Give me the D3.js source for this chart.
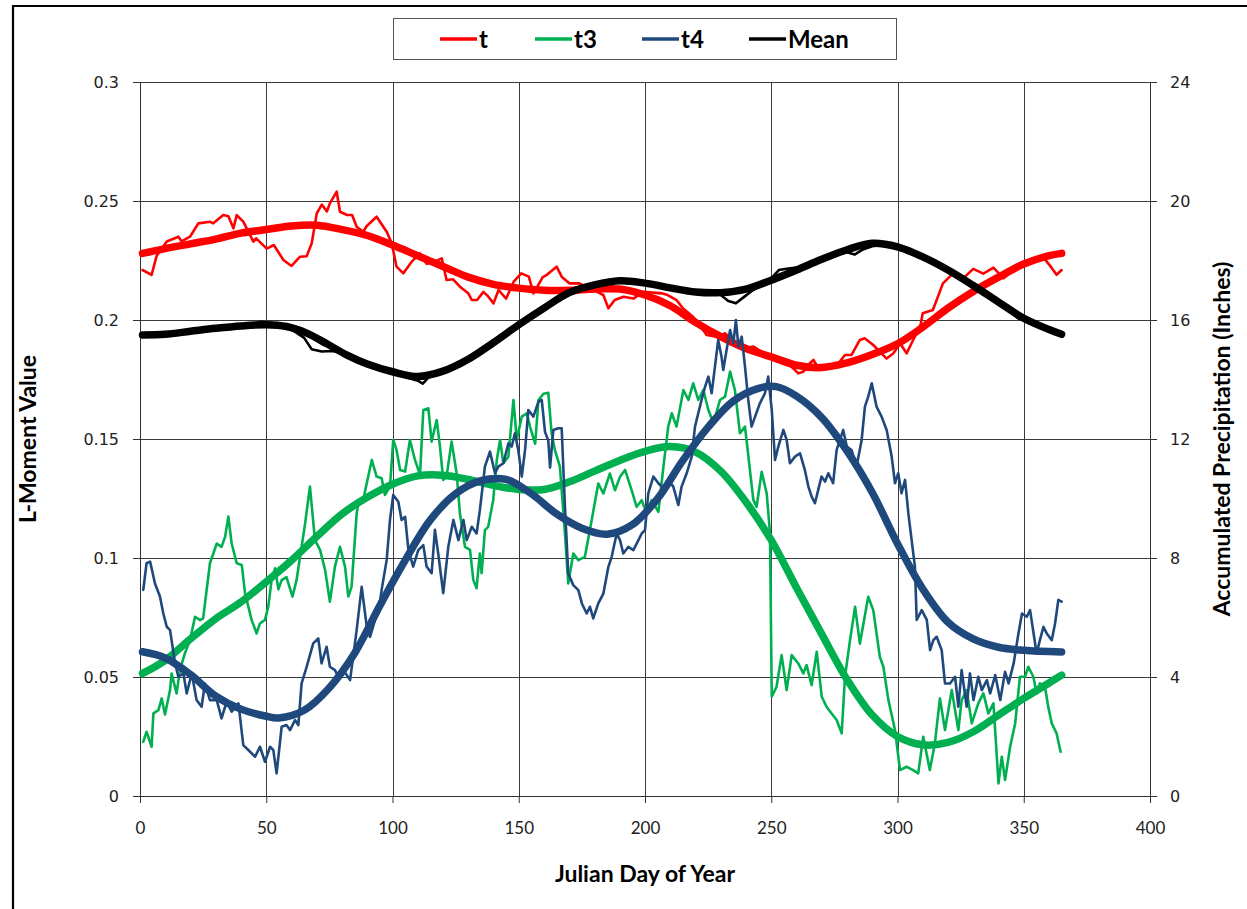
<!DOCTYPE html>
<html>
<head>
<meta charset="utf-8">
<script src="https://cdn.jsdelivr.net/npm/d3@7"></script>
<style>
  html, body { margin: 0; padding: 0; background: #fff; }
  .tick-y text, .tick-r text { font-family: "DejaVu Sans", sans-serif; font-size: 16px; fill: #222; }
  .tick-x text { font-family: "Lato", "Liberation Sans", sans-serif; font-size: 17px; fill: #222; }
  .axis-title { font-family: "Lato", "Liberation Sans", sans-serif; font-weight: bold; font-size: 23px; fill: #000; }
  .legend-text { font-family: "Lato", "Liberation Sans", sans-serif; font-weight: bold; font-size: 24px; fill: #000; }
</style>
</head>
<body>
<svg id="chart" width="1247" height="909"></svg>
<script>
// ---- data: [julian day, value] ----
var xTicks = [0, 50, 100, 150, 200, 250, 300, 350, 400];
var yTicks = [0, 0.05, 0.1, 0.15, 0.2, 0.25, 0.3];
var yRightTicks = [0, 4, 8, 12, 16, 20, 24];

// t (L-CV), daily noisy series
var tRaw = [[1,0.221],[4.6,0.219],[6.6,0.227],[10.6,0.233],[15.2,0.235],[16.5,0.233],[19.8,0.235],[23.1,0.2406],[27.7,0.2413],[29,0.2406],[33,0.2441],[35,0.2436],[37,0.2385],[38.3,0.2441],[40.9,0.2413],[44.9,0.2329],[46,0.2343],[50.2,0.23],[53,0.2315],[56.8,0.2252],[60,0.2227],[63.4,0.2266],[66,0.2268],[68,0.2322],[70,0.2448],[72,0.2485],[74,0.2456],[75.2,0.249],[77.9,0.2539],[79.2,0.2455],[82,0.2441],[84,0.2441],[85.8,0.2392],[88.4,0.2371],[89.8,0.2395],[93.7,0.2434],[97.7,0.2371],[99.7,0.2322],[101.6,0.2224],[104.3,0.2196],[107.6,0.2245],[110.9,0.228],[113.5,0.2236],[116,0.2242],[119.5,0.2259],[121.4,0.2168],[124,0.2171],[126.7,0.214],[130,0.2112],[131.4,0.2084],[133.5,0.2084],[136,0.2118],[138,0.2098],[140,0.207],[142,0.2126],[145,0.209],[148,0.2161],[151,0.2196],[154,0.2182],[155.8,0.2112],[159.5,0.218],[161,0.2189],[165,0.2224],[167,0.2182],[170,0.2154],[174,0.2154],[180.9,0.2119],[183.5,0.2105],[185.5,0.2049],[188,0.2084],[191.5,0.2098],[195.4,0.209],[199.5,0.2119],[206.6,0.2112],[209,0.2105],[212.5,0.2084],[215,0.2049],[219,0.2014],[223,0.1958],[224.4,0.1937],[228.4,0.193],[231.6,0.1944],[236.3,0.1902],[239,0.1881],[243,0.1888],[246.2,0.1866],[249.5,0.1852],[251.5,0.1838],[254.8,0.183],[258.7,0.1797],[260.7,0.1776],[262.7,0.1783],[265.3,0.1818],[266.7,0.1832],[268,0.181],[272,0.181],[276,0.181],[279.2,0.1853],[281.8,0.1853],[285.1,0.1916],[287,0.1923],[290.4,0.1895],[293,0.1866],[295.7,0.1838],[298.4,0.186],[301,0.1902],[303.6,0.186],[306.2,0.1916],[309,0.1972],[310,0.2028],[314,0.2042],[318,0.2154],[322,0.2196],[324.8,0.218],[326,0.2175],[330,0.2215],[334,0.2195],[338,0.222],[342,0.2175],[346,0.221],[350,0.2235],[354,0.2245],[358,0.226],[361,0.222],[363,0.219],[365,0.221]];

// t, fitted curve
var tFit = [[1,0.228],[10,0.23],[20,0.232],[30,0.234],[40,0.2365],[50,0.238],[60,0.2395],[70,0.2398],[80,0.238],[90,0.2355],[100,0.2315],[110,0.227],[120,0.2225],[130,0.218],[140,0.215],[150,0.2134],[160,0.2125],[170,0.2125],[180,0.213],[190,0.213],[200,0.2105],[210,0.206],[220,0.199],[230,0.193],[240,0.188],[250,0.1845],[260,0.181],[270,0.18],[280,0.182],[290,0.1855],[300,0.19],[310,0.197],[320,0.205],[330,0.212],[340,0.218],[350,0.2235],[360,0.227],[365,0.228]];

// t3 (L-skewness), daily noisy series
var t3Raw = [[1.3,0.0228],[2.6,0.027],[4.6,0.0207],[5.3,0.0347],[7.3,0.0361],[8.6,0.041],[9.9,0.0343],[11.9,0.0445],[12.5,0.0515],[14.5,0.0431],[15.8,0.0529],[17.8,0.06],[19.8,0.0655],[21.8,0.0753],[23.8,0.0739],[25,0.0746],[27.7,0.0978],[30.4,0.1061],[32.3,0.1047],[33.7,0.1089],[35,0.1174],[36.3,0.1061],[38.3,0.0978],[40.3,0.0971],[41.6,0.0852],[44.2,0.074],[46.2,0.0683],[47.5,0.0725],[49.5,0.074],[50.8,0.0795],[52.1,0.0907],[53.5,0.0957],[54.8,0.0868],[56.1,0.0907],[58,0.092],[60.4,0.0838],[62,0.0907],[64,0.1047],[65.3,0.1138],[67.3,0.13],[69.3,0.1075],[71.3,0.1034],[73.3,0.095],[75.2,0.0816],[77.2,0.0964],[79.2,0.1047],[81.2,0.0964],[82.5,0.0838],[83.8,0.088],[85.8,0.1187],[86.5,0.123],[88.4,0.1244],[89.8,0.1314],[91.8,0.1412],[93.7,0.1342],[95.7,0.1335],[97,0.1265],[99,0.13],[100.3,0.1496],[101.6,0.1454],[103,0.137],[105,0.1363],[106.9,0.1496],[108.9,0.1412],[110.9,0.1349],[112.2,0.1622],[114.2,0.1629],[115.5,0.1489],[117.5,0.158],[118.8,0.1468],[120.1,0.1328],[121.4,0.1342],[123.4,0.1489],[125.4,0.1356],[126.7,0.1187],[128.7,0.1047],[130.7,0.1034],[132,0.0908],[133.3,0.0873],[134.6,0.1019],[135.3,0.0936],[136.6,0.1117],[137.9,0.1131],[139.9,0.1244],[141.3,0.1412],[142.6,0.1496],[143.9,0.1398],[145.9,0.1426],[147.9,0.1664],[149.2,0.1496],[151.2,0.1594],[153.2,0.1608],[154.5,0.155],[156.5,0.148],[157.8,0.1664],[159.8,0.169],[161.7,0.1694],[163,0.1525],[164.3,0.1454],[166.3,0.1384],[168.3,0.1103],[169.6,0.0893],[171.6,0.1019],[173.6,0.0991],[176.2,0.1005],[178.9,0.116],[181.5,0.1313],[183.5,0.1271],[186.1,0.1355],[188.1,0.1285],[190.1,0.1341],[192.1,0.137],[194.7,0.1285],[196.7,0.1215],[198.7,0.1243],[200.7,0.1187],[202.6,0.1243],[205.3,0.1194],[207.3,0.1384],[209.2,0.1552],[210.6,0.1608],[212.5,0.1552],[215.2,0.1706],[217.2,0.1664],[219.1,0.1734],[221.1,0.1664],[223.1,0.1706],[225.1,0.1622],[227.1,0.1566],[229.7,0.1664],[231.7,0.1678],[233.7,0.1783],[235.6,0.1706],[237.6,0.1524],[239.6,0.1552],[242.9,0.1244],[244.2,0.1215],[246.2,0.1362],[248.2,0.1271],[249.5,0.1104],[250.2,0.0417],[252.1,0.0459],[254.1,0.0592],[256.1,0.0445],[258.1,0.0592],[260.7,0.0557],[262.7,0.0515],[264,0.055],[266,0.0466],[268,0.0606],[270,0.0417],[271.9,0.0375],[273.9,0.0347],[275.9,0.0319],[277.9,0.0263],[279.2,0.0501],[281.2,0.0655],[283.2,0.0795],[285.1,0.064],[288.4,0.0837],[290.4,0.0781],[293,0.0585],[294.4,0.0543],[296.4,0.0403],[299,0.0277],[301,0.0109],[303.6,0.0123],[306.2,0.0109],[308.2,0.0095],[310.2,0.0249],[311.5,0.0179],[312.8,0.0109],[314.8,0.0221],[316.8,0.041],[318.8,0.0277],[321.5,0.0445],[324.1,0.0277],[325.4,0.0403],[327.4,0.0445],[329.4,0.0305],[332,0.0389],[334,0.0431],[336,0.0347],[338,0.0389],[340,0.0053],[341.3,0.0165],[342.6,0.0067],[344.6,0.0207],[346.6,0.0305],[348.5,0.0501],[350.5,0.0501],[351.8,0.0543],[353.8,0.0501],[355.1,0.0431],[356.4,0.0473],[358.4,0.0459],[359.7,0.0375],[361.1,0.0305],[363,0.0263],[364.6,0.0186]];

// t3, fitted curve
var t3Fit = [[1,0.0515],[10,0.057],[20,0.066],[30,0.0745],[40,0.0815],[50,0.09],[60,0.099],[70,0.109],[80,0.1185],[90,0.1255],[100,0.131],[110,0.1345],[120,0.1348],[130,0.133],[140,0.1305],[150,0.1288],[160,0.1288],[170,0.132],[180,0.1365],[190,0.141],[200,0.1448],[210,0.1468],[220,0.1445],[230,0.1365],[240,0.1235],[250,0.1075],[260,0.0875],[270,0.068],[280,0.049],[290,0.034],[300,0.025],[310,0.0215],[320,0.0225],[330,0.027],[340,0.034],[350,0.041],[360,0.0475],[365,0.0508]];

// t4 (L-kurtosis), daily noisy series
var t4Raw = [[1.3,0.0866],[2.6,0.0978],[4,0.0985],[5.9,0.0894],[7.9,0.0838],[9.2,0.0768],[10.6,0.0711],[11.9,0.0697],[13.9,0.0557],[15.2,0.0501],[17.2,0.0515],[18.5,0.0431],[20.5,0.0515],[22.4,0.0403],[24.4,0.0375],[25.7,0.0473],[27.7,0.0403],[30.4,0.0403],[32.3,0.0326],[34.3,0.0396],[36.3,0.0354],[39,0.0389],[40.9,0.0214],[43.6,0.0186],[45.6,0.0165],[47.5,0.0207],[49.5,0.0144],[51.5,0.0207],[52.8,0.0193],[54.1,0.0095],[56.1,0.0291],[58,0.0298],[59.4,0.0277],[61.4,0.0319],[62.7,0.0298],[64,0.0473],[66,0.0543],[68.6,0.0641],[70.6,0.0662],[71.9,0.0557],[73.9,0.0627],[75.2,0.0543],[77.2,0.0529],[78.5,0.0501],[80.5,0.0529],[83.2,0.0487],[85.8,0.0697],[87.8,0.0879],[89.8,0.0711],[91.1,0.0669],[93.1,0.074],[94.4,0.0768],[95.7,0.0866],[97.7,0.0992],[99,0.116],[100.3,0.1265],[102.3,0.1236],[103.6,0.116],[105,0.1173],[106.3,0.1033],[108.2,0.0964],[110.2,0.1033],[112.2,0.1054],[113.5,0.0964],[115.5,0.0936],[116.8,0.1118],[118.1,0.1019],[120.1,0.0852],[122.1,0.1047],[124.1,0.116],[126.1,0.1075],[128.1,0.116],[129.4,0.1075],[131.4,0.1131],[133.3,0.1103],[134.6,0.1201],[136.6,0.1384],[138.6,0.1447],[140.6,0.1356],[141.9,0.1384],[143.9,0.1398],[145.9,0.1482],[147.2,0.1468],[148.5,0.1524],[149.8,0.1454],[151.2,0.1342],[152.5,0.1454],[153.8,0.1622],[155.8,0.1594],[157.8,0.1657],[159.1,0.1664],[160.4,0.153],[161.7,0.1493],[162.4,0.138],[163.7,0.1538],[165.7,0.1545],[167,0.1545],[168.3,0.1215],[169.6,0.0935],[171.6,0.0886],[173.6,0.0865],[175,0.0809],[176.9,0.0767],[178.2,0.0795],[179.5,0.0746],[181.5,0.0809],[183.5,0.085],[185.5,0.0963],[186.8,0.1005],[188.8,0.1103],[190.1,0.1075],[191.4,0.1019],[193.4,0.1047],[195.4,0.1033],[197.4,0.1075],[198.7,0.1103],[200,0.1117],[201.3,0.1272],[203.3,0.1342],[205.3,0.1314],[207.3,0.1293],[209.2,0.1328],[211.2,0.13],[213.2,0.1223],[214.5,0.13],[216.5,0.1356],[218.5,0.1426],[219.8,0.1552],[221.1,0.1608],[222.4,0.1664],[223.8,0.172],[225.1,0.1762],[226.4,0.1692],[227.7,0.1804],[229,0.1916],[230.3,0.1846],[231,0.179],[232.3,0.1874],[233.7,0.1958],[235,0.1902],[236,0.2],[237,0.1888],[238.3,0.193],[239.6,0.1804],[240.9,0.1664],[242.2,0.1552],[243.6,0.1594],[245.5,0.165],[247.5,0.1692],[248.8,0.1762],[250.2,0.1622],[251.5,0.1412],[252.8,0.1468],[254.8,0.1538],[256.1,0.1496],[257.4,0.1398],[259.4,0.1426],[261.4,0.144],[263.3,0.137],[264.7,0.13],[266,0.1258],[267.3,0.123],[268.6,0.1286],[269.9,0.1342],[271.3,0.1321],[272.6,0.1356],[274.5,0.1314],[275.9,0.1454],[277.2,0.1496],[278.5,0.1538],[279.9,0.1468],[281.8,0.1454],[283.8,0.1384],[285.8,0.1496],[287.1,0.1636],[288.4,0.1678],[289.8,0.1734],[291.7,0.1636],[293.7,0.1594],[295.7,0.1538],[297.7,0.1426],[299,0.1314],[300.3,0.1356],[301.6,0.1272],[303,0.1328],[304.3,0.1187],[305.6,0.1075],[306.9,0.0963],[307.6,0.074],[309.6,0.0781],[311.6,0.074],[312.9,0.0613],[314.2,0.0655],[315.5,0.0669],[317.5,0.0613],[318.8,0.0473],[320.8,0.0473],[322.8,0.0501],[324.1,0.0375],[325.4,0.0529],[327.4,0.0375],[328.7,0.0515],[330.1,0.0403],[332,0.0501],[333.4,0.0445],[335.4,0.0487],[336.7,0.0431],[338.7,0.0508],[340.7,0.0403],[342.6,0.0522],[344,0.0473],[346,0.0557],[347.9,0.0683],[349.3,0.0767],[351.2,0.0753],[352.5,0.0781],[353.9,0.0683],[355.1,0.0599],[356.4,0.0655],[357.8,0.0711],[359.1,0.0683],[361.1,0.0655],[362.4,0.0725],[363.7,0.0824],[365,0.0817]];

// t4, fitted curve
var t4Fit = [[1,0.0606],[10,0.058],[20,0.051],[30,0.042],[40,0.0365],[50,0.0335],[55,0.0328],[65,0.036],[75,0.0455],[85,0.06],[95,0.08],[105,0.099],[115,0.116],[125,0.127],[135,0.1325],[145,0.133],[155,0.127],[165,0.1185],[175,0.1125],[185,0.11],[195,0.114],[205,0.125],[215,0.141],[225,0.155],[235,0.166],[245,0.1713],[252,0.172],[260,0.168],[270,0.159],[280,0.145],[290,0.1275],[300,0.106],[310,0.087],[320,0.073],[330,0.066],[340,0.0625],[350,0.0612],[365,0.0605]];

// Mean accumulated precipitation (inches, right axis), noisy series
var meanRaw = [[1,15.48],[5,15.48],[10,15.52],[15,15.58],[20,15.64],[25,15.68],[30,15.72],[35,15.76],[40,15.8],[45,15.86],[48,15.94],[52,15.9],[55,15.82],[60,15.68],[65,15.4],[68,15.02],[72,14.94],[76,14.96],[80,14.9],[85,14.7],[90,14.52],[95,14.4],[100,14.24],[105,14.08],[110,13.96],[112,13.86],[115,14.14],[120,14.28],[125,14.46],[130,14.68],[135,14.96],[140,15.24],[145,15.54],[150,15.84],[155,16.12],[160,16.4],[165,16.7],[170,16.92],[175,17.06],[180,17.18],[185,17.26],[190,17.32],[195,17.3],[200,17.24],[205,17.16],[210,17.08],[215,17.0],[220,16.96],[225,16.92],[230,16.84],[233,16.64],[236,16.56],[239,16.76],[242,16.96],[246,17.16],[250,17.4],[253,17.68],[256,17.72],[260,17.76],[265,17.88],[270,18.04],[275,18.2],[280,18.28],[283,18.2],[286,18.36],[290,18.48],[295,18.54],[300,18.44],[303,18.32],[306,18.32],[310,18.12],[315,17.92],[320,17.68],[325,17.44],[330,17.16],[335,16.88],[340,16.6],[345,16.24],[348,16.04],[352,16.0],[356,15.8],[360,15.68],[365,15.52]];

// Mean, fitted curve
var meanFit = [[1,15.5],[10,15.52],[20,15.62],[30,15.72],[40,15.8],[50,15.84],[58,15.78],[66,15.56],[74,15.2],[82,14.82],[90,14.52],[100,14.26],[110,14.1],[120,14.28],[130,14.68],[140,15.24],[150,15.84],[160,16.4],[170,16.92],[180,17.18],[190,17.32],[200,17.24],[210,17.08],[220,16.94],[230,16.92],[240,17.04],[250,17.34],[260,17.68],[270,18.04],[280,18.36],[290,18.58],[300,18.46],[310,18.12],[320,17.68],[330,17.16],[340,16.6],[350,16.06],[360,15.68],[365,15.52]];

var legendNames = ["t", "t3", "t4", "Mean"];
var legendColors = ["#ff0000", "#00b050", "#1f497d", "#000000"];

(function (d3) {
    var svg = d3.select("#chart");
    var left = 140, right = 1150, top = 82, bottom = 796;

    var x = d3.scaleLinear().domain([0, 400]).range([left, right]);
    var yL = d3.scaleLinear().domain([0, 0.3]).range([bottom, top]);
    var yR = d3.scaleLinear().domain([0, 24]).range([bottom, top]);

    // outer chart frame (runs off the right / bottom edge)
    svg.append("path")
        .attr("d", "M13,912 L13,6 L1250,6")
        .attr("fill", "none")
        .attr("stroke", "#000")
        .attr("stroke-width", 2.2);

    // gridlines
    var grid = svg.append("g").attr("stroke", "#3a3a3a").attr("stroke-width", 1);
    grid.selectAll("line.h").data(yTicks).enter().append("line")
        .attr("x1", left).attr("x2", right)
        .attr("y1", function (d) { return Math.round(yL(d)) + 0.5; })
        .attr("y2", function (d) { return Math.round(yL(d)) + 0.5; });
    grid.selectAll("line.v").data(xTicks).enter().append("line")
        .attr("y1", top).attr("y2", bottom)
        .attr("x1", function (d) { return Math.round(x(d)) + 0.5; })
        .attr("x2", function (d) { return Math.round(x(d)) + 0.5; });

    // axes
    var ax = svg.append("g").attr("class", "tick-x")
        .attr("transform", "translate(0," + bottom + ")")
        .call(d3.axisBottom(x).tickValues(xTicks).tickSize(7).tickPadding(19).tickFormat(d3.format("d")));
    var ayl = svg.append("g").attr("class", "tick-y")
        .attr("transform", "translate(" + left + ",0)")
        .call(d3.axisLeft(yL).tickValues(yTicks).tickSize(7).tickPadding(14).tickFormat(d3.format("~g")));
    var ayr = svg.append("g").attr("class", "tick-r")
        .attr("transform", "translate(" + right + ",0)")
        .call(d3.axisRight(yR).tickValues(yRightTicks).tickSize(7).tickPadding(13).tickFormat(d3.format("d")));
    [ax, ayl, ayr].forEach(function (g) {
        g.selectAll("path.domain").attr("stroke", "#333");
        g.selectAll(".tick line").attr("stroke", "#333");
    });

    // series: fitted curve drawn thick, noisy daily series thin on top
    var rawLine = function (ys) {
        return d3.line().x(function (d) { return x(d[0]); }).y(function (d) { return ys(d[1]); });
    };
    var fitLine = function (ys) {
        return d3.line().curve(d3.curveCatmullRom.alpha(0.5))
            .x(function (d) { return x(d[0]); }).y(function (d) { return ys(d[1]); });
    };
    var series = [
        { raw: tRaw, fit: tFit, scale: yL, color: legendColors[0] },
        { raw: t3Raw, fit: t3Fit, scale: yL, color: legendColors[1] },
        { raw: t4Raw, fit: t4Fit, scale: yL, color: legendColors[2] },
        { raw: meanRaw, fit: meanFit, scale: yR, color: legendColors[3] }
    ];
    var plot = svg.append("g").attr("fill", "none")
        .attr("stroke-linejoin", "round").attr("stroke-linecap", "round");
    series.forEach(function (s) {
        plot.append("path").datum(s.fit)
            .attr("d", fitLine(s.scale))
            .attr("stroke", s.color).attr("stroke-width", 7.5);
        plot.append("path").datum(s.raw)
            .attr("d", rawLine(s.scale))
            .attr("stroke", s.color).attr("stroke-width", 2.6);
    });

    // axis titles
    svg.append("text").attr("class", "axis-title")
        .attr("x", (left + right) / 2).attr("y", 882)
        .attr("text-anchor", "middle").text("Julian Day of Year");
    svg.append("text").attr("class", "axis-title")
        .attr("transform", "translate(36," + (top + bottom) / 2 + ") rotate(-90)")
        .attr("text-anchor", "middle").text("L-Moment Value");
    svg.append("text").attr("class", "axis-title")
        .attr("transform", "translate(1230," + (top + bottom) / 2 + ") rotate(-90)")
        .attr("text-anchor", "middle").text("Accumulated Precipitation (Inches)");

    // legend
    var lg = svg.append("g");
    lg.append("rect").attr("x", 393.5).attr("y", 18.5).attr("width", 503).attr("height", 41)
        .attr("fill", "#fff").attr("stroke", "#555").attr("stroke-width", 1);
    var lx = [440, 535, 642, 749];
    lg.selectAll("g.item").data(legendNames).enter().append("g")
        .attr("transform", function (d, i) { return "translate(" + lx[i] + ",39)"; })
        .each(function (d, i) {
            var item = d3.select(this);
            item.append("line").attr("x1", 0).attr("x2", 37).attr("y1", 0).attr("y2", 0)
                .attr("stroke", legendColors[i]).attr("stroke-width", 3.5);
            item.append("text").attr("class", "legend-text")
                .attr("x", 39).attr("y", 8.5).text(d);
        });
})(window.d3);
</script>
</body>
</html>
